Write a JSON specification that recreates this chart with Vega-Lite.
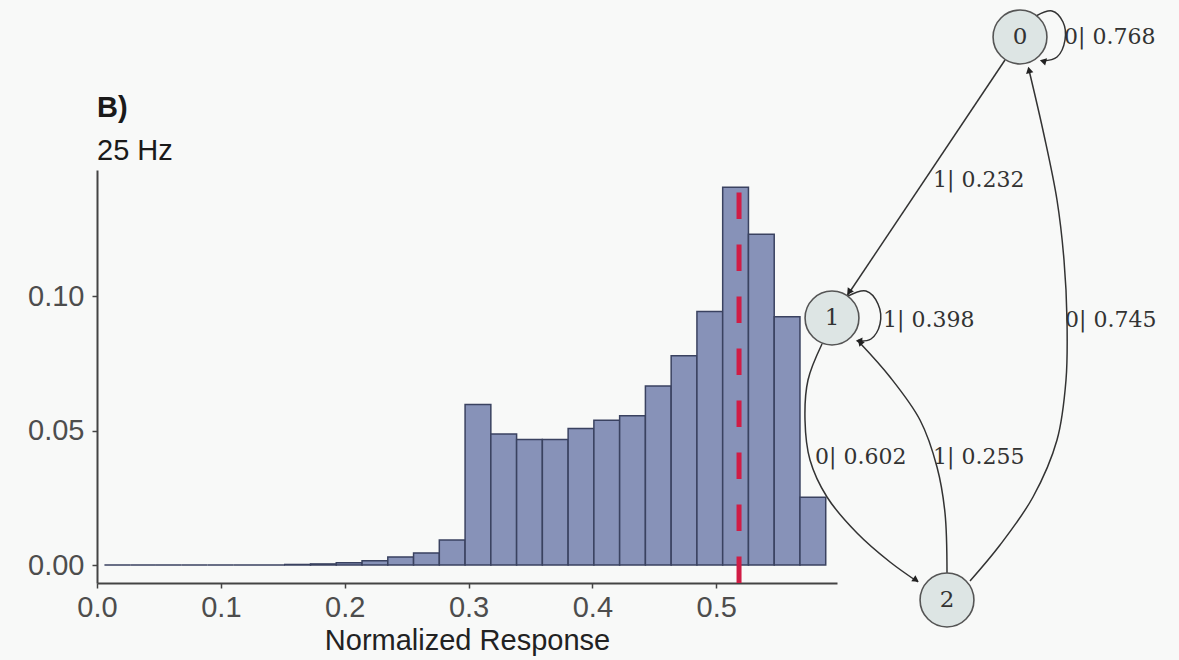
{
  "$schema": "https://vega.github.io/schema/vega-lite/v6.json",
  "width": 740,
  "height": 413,
  "autosize": {"type": "none"},
  "padding": {"left": 97, "top": 170, "right": 342, "bottom": 77},
  "background": "#f8f9f8",
  "datasets": {
    "bins": [
      {"x0": 0.0060, "x1": 0.0268, "p": 0},
      {"x0": 0.0268, "x1": 0.0476, "p": 0},
      {"x0": 0.0476, "x1": 0.0684, "p": 0},
      {"x0": 0.0684, "x1": 0.0892, "p": 0},
      {"x0": 0.0892, "x1": 0.1100, "p": 0},
      {"x0": 0.1100, "x1": 0.1308, "p": 0},
      {"x0": 0.1308, "x1": 0.1516, "p": 0},
      {"x0": 0.1516, "x1": 0.1724, "p": 0.0002},
      {"x0": 0.1724, "x1": 0.1932, "p": 0.0004},
      {"x0": 0.1932, "x1": 0.2140, "p": 0.0008},
      {"x0": 0.2140, "x1": 0.2348, "p": 0.0016},
      {"x0": 0.2348, "x1": 0.2556, "p": 0.0030},
      {"x0": 0.2556, "x1": 0.2764, "p": 0.0045},
      {"x0": 0.2764, "x1": 0.2972, "p": 0.0093},
      {"x0": 0.2972, "x1": 0.3180, "p": 0.0597},
      {"x0": 0.3180, "x1": 0.3388, "p": 0.0487},
      {"x0": 0.3388, "x1": 0.3596, "p": 0.0467},
      {"x0": 0.3596, "x1": 0.3804, "p": 0.0467},
      {"x0": 0.3804, "x1": 0.4012, "p": 0.0507},
      {"x0": 0.4012, "x1": 0.4220, "p": 0.0538},
      {"x0": 0.4220, "x1": 0.4428, "p": 0.0555},
      {"x0": 0.4428, "x1": 0.4636, "p": 0.0665},
      {"x0": 0.4636, "x1": 0.4844, "p": 0.0778},
      {"x0": 0.4844, "x1": 0.5052, "p": 0.0942},
      {"x0": 0.5052, "x1": 0.5260, "p": 0.1404},
      {"x0": 0.5260, "x1": 0.5468, "p": 0.1230},
      {"x0": 0.5468, "x1": 0.5676, "p": 0.0923},
      {"x0": 0.5676, "x1": 0.5884, "p": 0.0252}
    ],
    "threshold": [{"value": 0.5184}],
    "panelTag": [{"text": "B)", "x": 0, "y": 0.1665}],
    "panelSub": [{"text": "25 Hz", "x": 0, "y": 0.1506}],
    "nodes": [
      {"state": "0", "x": 1020, "y": 37},
      {"state": "1", "x": 832, "y": 318},
      {"state": "2", "x": 947, "y": 600}
    ],
    "edges": [
      {"edge": "0-1", "i": 0, "x": 1005, "y": 60},
      {"edge": "0-1", "i": 1, "x": 847, "y": 296},
      {"edge": "0-0", "i": 0, "x": 1036, "y": 16},
      {"edge": "0-0", "i": 1, "x": 1052, "y": 11},
      {"edge": "0-0", "i": 2, "x": 1063, "y": 22},
      {"edge": "0-0", "i": 3, "x": 1065, "y": 40},
      {"edge": "0-0", "i": 4, "x": 1057, "y": 57},
      {"edge": "0-0", "i": 5, "x": 1043, "y": 61},
      {"edge": "2-0", "i": 0, "x": 970, "y": 581},
      {"edge": "2-0", "i": 1, "x": 1000, "y": 545},
      {"edge": "2-0", "i": 2, "x": 1033, "y": 497},
      {"edge": "2-0", "i": 3, "x": 1057, "y": 440},
      {"edge": "2-0", "i": 4, "x": 1066, "y": 380},
      {"edge": "2-0", "i": 5, "x": 1067, "y": 320},
      {"edge": "2-0", "i": 6, "x": 1064, "y": 260},
      {"edge": "2-0", "i": 7, "x": 1057, "y": 200},
      {"edge": "2-0", "i": 8, "x": 1044, "y": 135},
      {"edge": "2-0", "i": 9, "x": 1029, "y": 70},
      {"edge": "1-1", "i": 0, "x": 848, "y": 296},
      {"edge": "1-1", "i": 1, "x": 866, "y": 291},
      {"edge": "1-1", "i": 2, "x": 878, "y": 304},
      {"edge": "1-1", "i": 3, "x": 880, "y": 324},
      {"edge": "1-1", "i": 4, "x": 871, "y": 339},
      {"edge": "1-1", "i": 5, "x": 858, "y": 341},
      {"edge": "1-2", "i": 0, "x": 822, "y": 344},
      {"edge": "1-2", "i": 1, "x": 808, "y": 380},
      {"edge": "1-2", "i": 2, "x": 805, "y": 420},
      {"edge": "1-2", "i": 3, "x": 810, "y": 460},
      {"edge": "1-2", "i": 4, "x": 827, "y": 497},
      {"edge": "1-2", "i": 5, "x": 857, "y": 533},
      {"edge": "1-2", "i": 6, "x": 890, "y": 562},
      {"edge": "1-2", "i": 7, "x": 918, "y": 582},
      {"edge": "2-1", "i": 0, "x": 947, "y": 573},
      {"edge": "2-1", "i": 1, "x": 945, "y": 513},
      {"edge": "2-1", "i": 2, "x": 937, "y": 467},
      {"edge": "2-1", "i": 3, "x": 920, "y": 420},
      {"edge": "2-1", "i": 4, "x": 890, "y": 377},
      {"edge": "2-1", "i": 5, "x": 860, "y": 343}
    ],
    "heads": [
      {"edge": "0-1", "x": 849, "y": 292, "heading": 214},
      {"edge": "0-0", "x": 1043, "y": 61, "heading": 285},
      {"edge": "2-0", "x": 1029, "y": 70, "heading": 347},
      {"edge": "1-1", "x": 859, "y": 341, "heading": 275},
      {"edge": "1-2", "x": 916, "y": 580, "heading": 124},
      {"edge": "2-1", "x": 860, "y": 342, "heading": 318}
    ],
    "edgeLabels": [
      {"label": "0| 0.768", "x": 1064, "y": 37},
      {"label": "1| 0.232", "x": 933, "y": 180},
      {"label": "1| 0.398", "x": 883, "y": 320},
      {"label": "0| 0.745", "x": 1065, "y": 320},
      {"label": "0| 0.602", "x": 815, "y": 457},
      {"label": "1| 0.255", "x": 933, "y": 457}
    ]
  },
  "layer": [
    {
      "layer": [
        {
          "data": {"name": "bins"},
          "mark": {"type": "rect", "fill": "#8792b8", "stroke": "#3a4260", "strokeWidth": 1.5},
          "encoding": {
            "x": {
              "field": "x0", "type": "quantitative",
              "scale": {"domain": [0, 0.5975], "nice": false, "zero": false},
              "axis": {"values": [0, 0.1, 0.2, 0.3, 0.4, 0.5], "format": ".1f", "title": "Normalized Response", "labelFlush": false}
            },
            "x2": {"field": "x1"},
            "y": {
              "field": "p", "type": "quantitative",
              "scale": {"domain": [-0.00669, 0.14684], "nice": false, "zero": false},
              "axis": {"values": [0, 0.05, 0.1], "format": ".2f", "title": null, "labelFlush": false, "labelPadding": 8}
            },
            "y2": {"datum": 0}
          }
        },
        {
          "data": {"name": "threshold"},
          "mark": {"type": "rule", "stroke": "#d01c45", "strokeWidth": 5, "strokeDash": [26.5, 25.5]},
          "encoding": {
            "x": {"field": "value", "type": "quantitative"},
            "y": {"datum": -0.00669},
            "y2": {"datum": 0.14684}
          }
        },
        {
          "data": {"name": "panelTag"},
          "mark": {"type": "text", "font": "Liberation Sans", "fontSize": 29, "fontWeight": "bold", "color": "#1a1a1a", "align": "left", "baseline": "alphabetic"},
          "encoding": {
            "x": {"field": "x", "type": "quantitative"},
            "y": {"field": "y", "type": "quantitative"},
            "text": {"field": "text"}
          }
        },
        {
          "data": {"name": "panelSub"},
          "mark": {"type": "text", "font": "Liberation Sans", "fontSize": 29, "color": "#1a1a1a", "align": "left", "baseline": "alphabetic"},
          "encoding": {
            "x": {"field": "x", "type": "quantitative"},
            "y": {"field": "y", "type": "quantitative"},
            "text": {"field": "text"}
          }
        }
      ]
    },
    {
      "layer": [
        {
          "data": {"name": "edges"},
          "mark": {"type": "line", "stroke": "#333333", "strokeWidth": 1.5, "interpolate": "catmull-rom"},
          "encoding": {
            "x": {"field": "x", "type": "quantitative", "scale": {"domain": [97, 837], "nice": false, "zero": false}, "axis": null},
            "y": {"field": "y", "type": "quantitative", "scale": {"domain": [170, 583], "nice": false, "zero": false, "reverse": true}, "axis": null},
            "detail": {"field": "edge"},
            "order": {"field": "i", "type": "quantitative"}
          }
        },
        {
          "data": {"name": "heads"},
          "mark": {"type": "point", "shape": "triangle-up", "filled": true, "color": "#222222", "size": 55, "opacity": 1},
          "encoding": {
            "x": {"field": "x", "type": "quantitative", "axis": null},
            "y": {"field": "y", "type": "quantitative", "axis": null},
            "angle": {"field": "heading", "type": "quantitative", "scale": null}
          }
        },
        {
          "data": {"name": "nodes"},
          "mark": {"type": "point", "shape": "circle", "filled": true, "fill": "#dde5e4", "stroke": "#555555", "strokeWidth": 1.6, "size": 2900, "opacity": 1},
          "encoding": {
            "x": {"field": "x", "type": "quantitative", "axis": null},
            "y": {"field": "y", "type": "quantitative", "axis": null}
          }
        },
        {
          "data": {"name": "nodes"},
          "mark": {"type": "text", "font": "DejaVu Serif", "fontSize": 23, "color": "#333333", "align": "center", "baseline": "middle"},
          "encoding": {
            "x": {"field": "x", "type": "quantitative", "axis": null},
            "y": {"field": "y", "type": "quantitative", "axis": null},
            "text": {"field": "state"}
          }
        },
        {
          "data": {"name": "edgeLabels"},
          "mark": {"type": "text", "font": "DejaVu Serif", "fontSize": 22, "color": "#333333", "align": "left", "baseline": "middle"},
          "encoding": {
            "x": {"field": "x", "type": "quantitative", "axis": null},
            "y": {"field": "y", "type": "quantitative", "axis": null},
            "text": {"field": "label"}
          }
        }
      ]
    }
  ],
  "resolve": {"scale": {"x": "independent", "y": "independent"}},
  "config": {
    "view": {"stroke": null},
    "axis": {
      "grid": false,
      "domainColor": "#444444",
      "domainWidth": 2,
      "tickColor": "#444444",
      "tickWidth": 1.5,
      "tickSize": 5,
      "labelFont": "Liberation Sans",
      "labelFontSize": 29,
      "labelColor": "#4d4d4d",
      "labelPadding": 5,
      "titleFont": "Liberation Sans",
      "titleFontSize": 29,
      "titleFontWeight": "normal",
      "titleColor": "#222222",
      "titlePadding": 4
    }
  }
}
